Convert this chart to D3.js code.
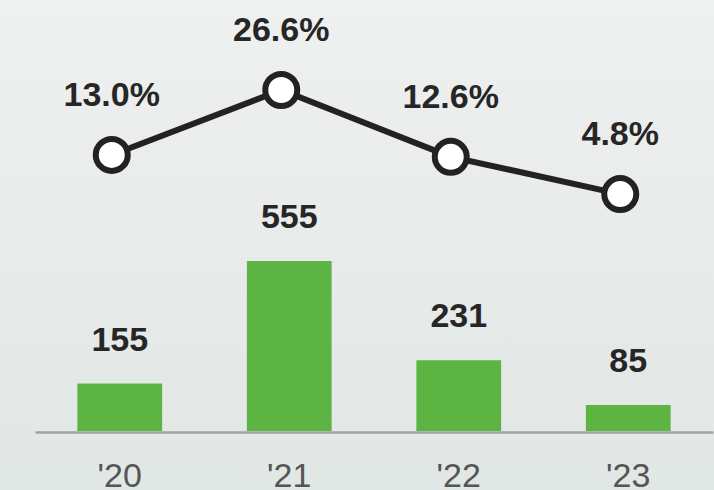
<!DOCTYPE html>
<html lang="en">
<head>
	<meta charset="UTF-8">
	<title>Bars and rate</title>
	<script src="https://cdn.jsdelivr.net/npm/d3@7"></script>
	<style>
		html, body { margin: 0; padding: 0; overflow: hidden; }
		text { font-family: "Liberation Sans", Arial, sans-serif; }
	</style>
</head>
<body>
<script type="text/javascript">
	// data
	var years = ["'20", "'21", "'22", "'23"];
	var amounts = [155, 555, 231, 85];
	var rates = [13.0, 26.6, 12.6, 4.8];
	var rateLabels = ["13.0%", "26.6%", "12.6%", "4.8%"];

	var width = 714, height = 490;

	var svg = d3.select('body')
		.append('svg')
		.attr('width', width)
		.attr('height', height);

	// soft backdrop
	var grad = svg.append('defs').append('linearGradient')
		.attr('id', 'bg')
		.attr('x1', 0).attr('y1', 0).attr('x2', 0).attr('y2', 1);
	grad.append('stop').attr('offset', '0%').attr('stop-color', '#eff0f0');
	grad.append('stop').attr('offset', '55%').attr('stop-color', '#e7ebea');
	grad.append('stop').attr('offset', '100%').attr('stop-color', '#e1e7e4');
	svg.append('rect')
		.attr('width', width)
		.attr('height', height)
		.attr('fill', 'url(#bg)');

	var x = d3.scaleBand()
		.domain(years)
		.range([35, 713])
		.paddingInner(0.5)
		.paddingOuter(0.25);

	var y = d3.scaleLinear()
		.domain([0, 555])
		.range([431, 261]);

	// rate line sits a bit left of the bars
	var xr = function (d) { return x(d) + x.bandwidth() / 2 - 8; };
	var yr = d3.scaleLinear()
		.domain([0, 26.6])
		.range([217, 90]);

	// bars
	svg.selectAll('.bar')
		.data(amounts)
		.enter().append('rect')
		.attr('class', 'bar')
		.attr('x', function (d, i) { return x(years[i]); })
		.attr('y', function (d) { return y(d); })
		.attr('width', x.bandwidth())
		.attr('height', function (d) { return y(0) - y(d); })
		.attr('fill', '#5cb443');

	// baseline axis
	var axis = svg.append('g')
		.attr('transform', 'translate(0,' + 432 + ')')
		.call(d3.axisBottom(x).tickSize(0).tickPadding(0));
	axis.select('.domain')
		.attr('stroke', '#a3a3a3')
		.attr('stroke-width', 2.5);
	axis.selectAll('.tick text')
		.attr('y', 55)
		.attr('dy', 0)
		.style('font-size', '34px')
		.style('font-family', '"Liberation Sans", Arial, sans-serif')
		.style('font-weight', 400)
		.attr('fill', '#555');

	// bar values
	svg.selectAll('.val')
		.data(amounts)
		.enter().append('text')
		.attr('class', 'val')
		.attr('x', function (d, i) { return x(years[i]) + x.bandwidth() / 2; })
		.attr('y', function (d) { return y(d) - 33; })
		.attr('text-anchor', 'middle')
		.style('font-size', '34px')
		.style('font-weight', 700)
		.attr('fill', '#262626')
		.text(function (d) { return d; });

	// rate line
	var line = d3.line()
		.x(function (d, i) { return xr(years[i]); })
		.y(function (d) { return yr(d); });

	svg.append('path')
		.datum(rates)
		.attr('d', line)
		.attr('fill', 'none')
		.attr('stroke', '#222')
		.attr('stroke-width', 6);

	svg.selectAll('.dot')
		.data(rates)
		.enter().append('circle')
		.attr('class', 'dot')
		.attr('cx', function (d, i) { return xr(years[i]); })
		.attr('cy', function (d) { return yr(d); })
		.attr('r', 16)
		.attr('fill', '#fff')
		.attr('stroke', '#222')
		.attr('stroke-width', 6);

	svg.selectAll('.rate')
		.data(rates)
		.enter().append('text')
		.attr('class', 'rate')
		.attr('x', function (d, i) { return xr(years[i]); })
		.attr('y', function (d) { return yr(d) - 49; })
		.attr('text-anchor', 'middle')
		.style('font-size', '34px')
		.style('font-weight', 700)
		.attr('fill', '#262626')
		.text(function (d, i) { return rateLabels[i]; });
</script>
</body>
</html>
